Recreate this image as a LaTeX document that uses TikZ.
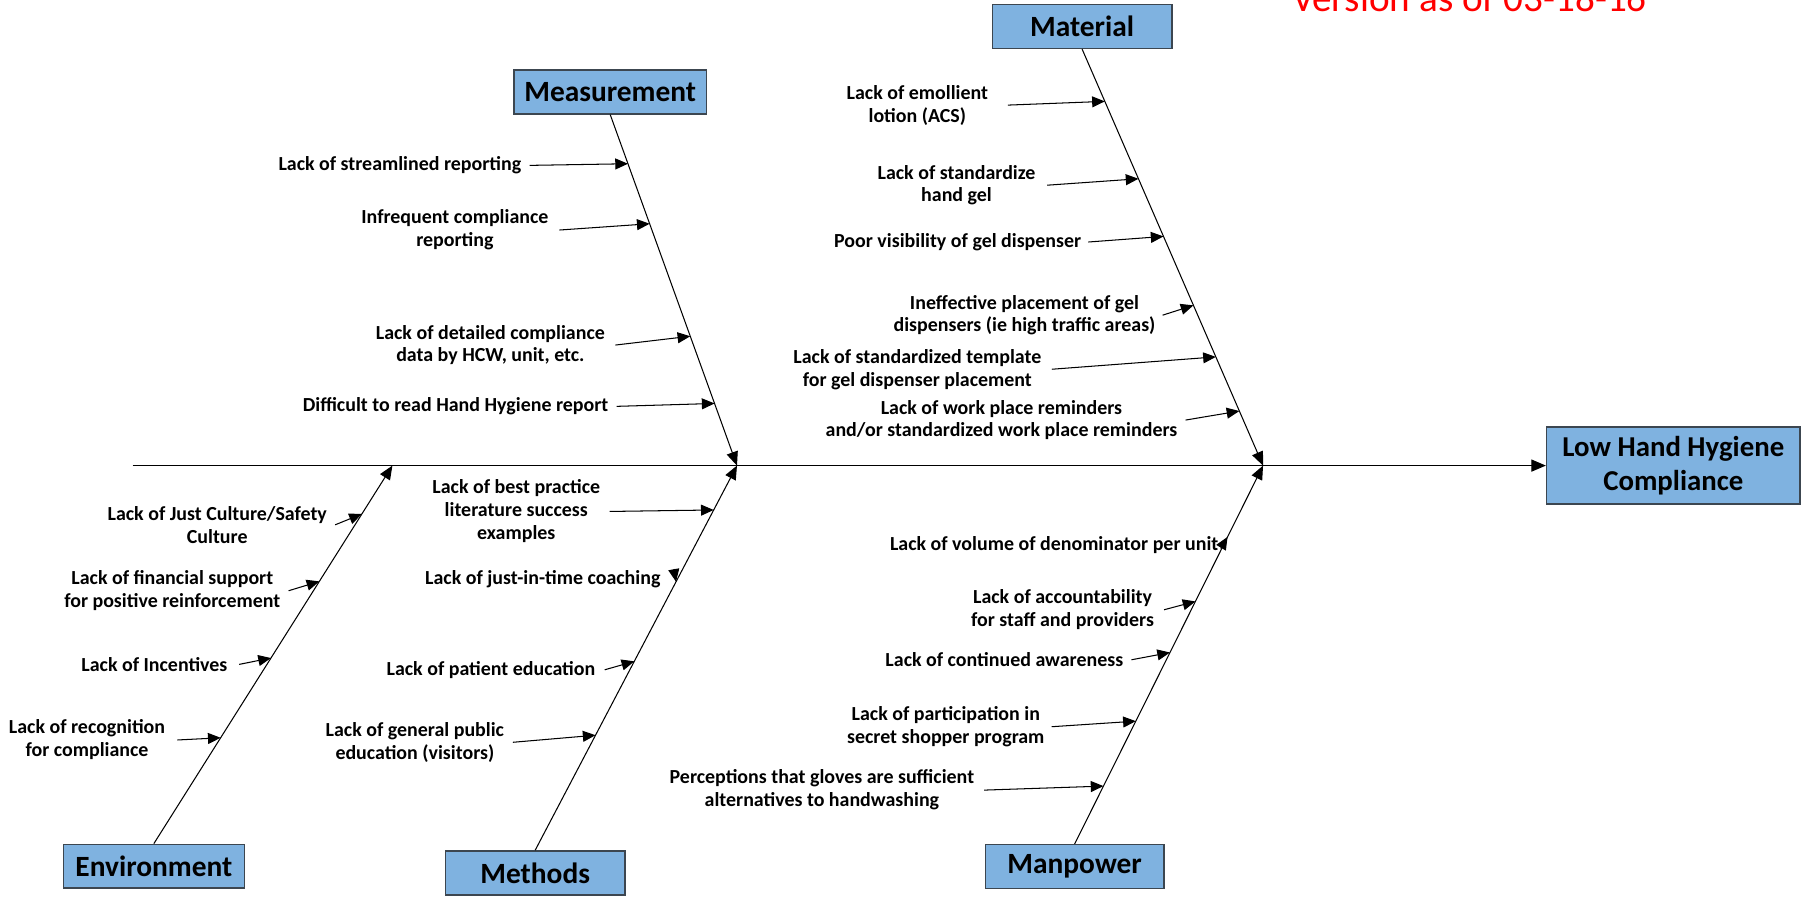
\documentclass[tikz,border=0pt]{standalone}
\usepackage{fontspec}
\setmainfont{Carlito}
\usetikzlibrary{arrows.meta,calc}
\definecolor{boxfill}{HTML}{7FB2E0}
\definecolor{boxline}{HTML}{3C4650}
\definecolor{vred}{HTML}{FF0000}
\tikzset{
  catbox/.style={draw=boxline, fill=boxfill, line width=1.3pt, inner sep=0pt,
    minimum width=156pt, minimum height=38pt, font=\bfseries\fontsize{25.5}{30}\selectfont},
  cause/.style={align=center, inner sep=0pt, yshift=-1.2pt, font=\bfseries\fontsize{17.3}{19.9}\selectfont},
  arr/.style={line width=0.9pt, -{Triangle[length=11pt,width=9.5pt]}},
  bone/.style={line width=0.9pt, -{Triangle[length=12pt,width=10pt]}},
}
\begin{document}
\begin{tikzpicture}[x=1pt,y=-1pt]
\useasboundingbox (0,0) rectangle (1568,782);
\clip (0,0) rectangle (1568,782);

% red version note (cut off at the top edge, as in the reference)
\node[anchor=base west, inner sep=0pt, text=vred, font=\fontsize{34}{40}\selectfont] (ver) at (1121,10.1) {Version as of 03-18-16};

% effect and category boxes
\node[catbox, minimum width=220pt, minimum height=67pt, align=center, font=\bfseries\fontsize{25}{29.5}\selectfont] (eff) at (1452,404) {Low Hand Hygiene\\Compliance};
\node[catbox] (mat) at (939,23) {Material};
\node[catbox, minimum width=167pt] (meas) at (529.5,79.8) {Measurement};
\node[catbox, minimum width=157pt] (env) at (133.5,751.7) {Environment};
\node[catbox] (meth) at (464.4,757.4) {Methods};
\node[catbox, minimum width=155pt] (manp) at (932.5,752) {Manpower};

% spine
\coordinate (S0) at (115,404);
\coordinate (J0) at (340.5,404);
\coordinate (J1) at (639.5,404);
\coordinate (J2) at (1096,404);
\draw[line width=0.9pt, -{Triangle[length=12.5pt,width=10.5pt]}] (S0) -- (eff.west);

% bones
\draw[bone] (meas.south) -- (J1);
\draw[bone] (meth.north) -- (J1);
\draw[bone] (env.north) -- (J0);
\draw[bone] (mat.south) -- (J2);
\draw[bone] (manp.north) -- (J2);

% tips on bones
\coordinate (m1t) at ($(meas.south)!0.140!(J1)$);
\coordinate (m2t) at ($(meas.south)!0.311!(J1)$);
\coordinate (m3t) at ($(meas.south)!0.6315!(J1)$);
\coordinate (m4t) at ($(meas.south)!0.823!(J1)$);
\coordinate (t1t) at ($(mat.south)!0.1254!(J2)$);
\coordinate (t2t) at ($(mat.south)!0.3113!(J2)$);
\coordinate (t3t) at ($(mat.south)!0.4497!(J2)$);
\coordinate (t4t) at ($(mat.south)!0.6152!(J2)$);
\coordinate (t5t) at ($(mat.south)!0.739!(J2)$);
\coordinate (t6t) at ($(mat.south)!0.869!(J2)$);
\coordinate (e1t) at ($(env.north)!0.872!(J0)$);
\coordinate (e2t) at ($(env.north)!0.6937!(J0)$);
\coordinate (e3t) at ($(env.north)!0.491!(J0)$);
\coordinate (e4t) at ($(env.north)!0.28!(J0)$);
\coordinate (d1t) at ($(meth.north)!0.8846!(J1)$);
\coordinate (d2t) at ($(meth.north)!0.698!(J1)$);
\coordinate (d3t) at ($(meth.north)!0.491!(J1)$);
\coordinate (d4t) at ($(meth.north)!0.299!(J1)$);
\coordinate (p1t) at ($(manp.north)!0.8116!(J2)$);
\coordinate (p2t) at ($(manp.north)!0.641!(J2)$);
\coordinate (p3t) at ($(manp.north)!0.506!(J2)$);
\coordinate (p4t) at ($(manp.north)!0.3246!(J2)$);
\coordinate (p5t) at ($(manp.north)!0.153!(J2)$);

% Measurement causes
\node[cause] (m1) at (347,142.3) {Lack of streamlined reporting};
\node[cause] (m2) at (394.7,198.4) {Infrequent compliance\\reporting};
\node[cause] (m3) at (425.5,298.2) {Lack of detailed compliance\\data by HCW, unit, etc.};
\node[cause] (m4) at (395.3,351.4) {Difficult to read Hand Hygiene report};
\draw[arr] ([xshift=7pt]m1.east) -- (m1t);
\draw[arr] ([xshift=9.4pt]m2.east) -- (m2t);
\draw[arr] ([xshift=9pt]m3.east) -- (m3t);
\draw[arr] ([xshift=7pt]m4.east) -- (m4t);

% Material causes
\node[cause] (t1) at (796,90) {Lack of emollient\\lotion (ACS)};
\node[cause] (t2) at (830,159.5) {Lack of standardize\\hand gel};
\node[cause] (t3) at (831,208.8) {Poor visibility of gel dispenser};
\node[cause] (t4) at (889,272.3) {Ineffective placement of gel\\dispensers (ie high traffic areas)};
\node[cause] (t5) at (796,319.2) {Lack of standardized template\\for gel dispenser placement};
\node[cause] (t6) at (869,363.3) {Lack of work place reminders\\and/or standardized work place reminders};
\draw[arr] ([xshift=17pt]t1.east) -- (t1t);
\draw[arr] ([xshift=10pt]t2.east) -- (t2t);
\draw[arr] ([xshift=6pt]t3.east) -- (t3t);
\draw[arr] ([xshift=6pt]t4.east) -- (t4t);
\draw[arr] ([xshift=9pt]t5.east) -- (t5t);
\draw[arr] ([xshift=7pt]t6.east) -- (t6t);

% Environment causes
\node[cause] (e1) at (188.5,454.2) {Lack of Just Culture/Safety\\Culture};
\node[cause] (e2) at (149.5,511.4) {Lack of financial support\\for positive reinforcement};
\node[cause] (e3) at (134,575.3) {Lack of Incentives};
\node[cause] (e4) at (75.5,640.9) {Lack of recognition\\for compliance};
\draw[arr] ([xshift=7pt]e1.east) -- (e1t);
\draw[arr] ([xshift=7pt]e2.east) -- (e2t);
\draw[arr] ([xshift=10pt]e3.east) -- (e3t);
\draw[arr] ([xshift=10.5pt]e4.east) -- (e4t);

% Methods causes
\node[cause] (d1) at (448,442.6) {Lack of best practice\\literature success\\examples};
\node[cause] (d2) at (471,501.3) {Lack of just-in-time coaching};
\node[cause] (d3) at (426,580) {Lack of patient education};
\node[cause] (d4) at (360,642.9) {Lack of general public\\education (visitors)};
\draw[arr] ([xshift=8pt]d1.east) -- (d1t);
\draw[arr] ([shift={(-2,-11)}]d2t) -- (d2t);
\draw[arr] ([xshift=8pt]d3.east) -- (d3t);
\draw[arr] ([xshift=7.5pt]d4.east) -- (d4t);

% Manpower causes
\node[cause] (p1) at (914.7,471.5) {Lack of volume of denominator per unit};
\node[cause] (p2) at (922,527.9) {Lack of accountability\\for staff and providers};
\node[cause] (p3) at (871.5,571.3) {Lack of continued awareness};
\node[cause] (p4) at (820.7,629.4) {Lack of participation in\\secret shopper program};
\node[cause] (p5) at (713.2,684.4) {Perceptions that gloves are sufficient\\alternatives to handwashing};
\draw[arr] ([shift={(-6,10)}]p1t) -- (p1t);
\draw[arr] ([xshift=8.6pt]p2.east) -- (p2t);
\draw[arr] ([xshift=7pt]p3.east) -- (p3t);
\draw[arr] ([xshift=6pt]p4.east) -- (p4t);
\draw[arr] ([xshift=8.5pt]p5.east) -- (p5t);
\end{tikzpicture}
\end{document}
